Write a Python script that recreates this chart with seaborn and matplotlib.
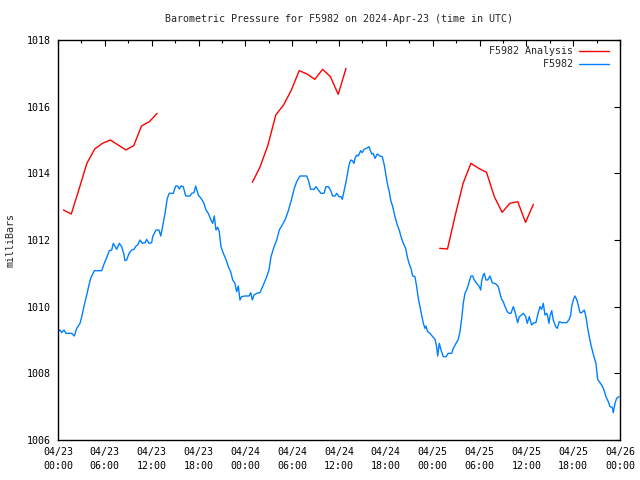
import matplotlib
matplotlib.use("Agg")
import matplotlib.pyplot as plt
from matplotlib.lines import Line2D
import seaborn as sns
import pandas as pd

# ---------------- data ----------------
title = "Barometric Pressure for F5982 on 2024-Apr-23 (time in UTC)"
tick_hours = [0, 6, 12, 18, 24, 30, 36, 42, 48, 54, 60, 66, 72]
tick_labels = ["04/23\n00:00", "04/23\n06:00", "04/23\n12:00", "04/23\n18:00",
               "04/24\n00:00", "04/24\n06:00", "04/24\n12:00", "04/24\n18:00",
               "04/25\n00:00", "04/25\n06:00", "04/25\n12:00", "04/25\n18:00",
               "04/26\n00:00"]

# Analysis (red), three separate runs, hours since 04/23 00:00 UTC
ana1_h = [0.7, 1.7, 2.7, 3.7, 4.7, 5.7, 6.7, 7.7, 8.7, 9.7, 10.7, 11.7, 12.7]
ana1_mb = [1012.90, 1012.78, 1013.53, 1014.30, 1014.73, 1014.90, 1015.00,
           1014.85, 1014.70, 1014.83, 1015.42, 1015.55, 1015.80]
ana2_h = [24.9, 25.9, 26.9, 27.9, 28.9, 29.9, 30.9, 31.9, 32.9, 33.9, 34.9, 35.9, 36.9]
ana2_mb = [1013.73, 1014.20, 1014.85, 1015.75, 1016.05, 1016.50, 1017.08,
           1016.98, 1016.82, 1017.12, 1016.90, 1016.37, 1017.15]
ana3_h = [48.9, 49.9, 50.9, 51.9, 52.9, 53.9, 54.9, 55.9, 56.9, 57.9, 58.9, 59.9, 60.9]
ana3_mb = [1011.75, 1011.73, 1012.75, 1013.70, 1014.30, 1014.15, 1014.03,
           1013.30, 1012.83, 1013.10, 1013.15, 1012.53, 1013.07]

# Station observations (blue)
obs_h = [0.10, 0.26, 0.47, 0.77, 1.02, 1.76, 2.09, 2.40, 2.82, 3.04, 3.37, 3.68, 3.97,
         4.19, 4.65, 5.60, 5.93, 6.37, 6.57, 6.88, 7.08, 7.52, 7.85, 8.16, 8.46,
         8.58, 8.80, 9.10, 9.44, 9.74, 9.99, 10.21, 10.50, 10.80, 11.15, 11.36,
         11.66, 12.00, 12.13, 12.34, 12.55, 12.94, 13.16, 13.36, 13.71, 14.00,
         14.26, 14.77, 15.08, 15.33, 15.54, 15.76, 16.05, 16.36, 16.91, 17.13,
         17.42, 17.64, 17.97, 18.41, 18.70, 18.92, 19.25, 19.60, 19.82, 20.02,
         20.24, 20.46, 20.66, 20.88, 21.18, 21.52, 21.82, 22.12, 22.38, 22.67,
         22.89, 23.10, 23.31, 23.53, 23.96, 24.47, 24.69, 24.89, 25.11, 25.46,
         25.88, 26.30, 26.74, 27.03, 27.29, 27.71, 28.02, 28.35, 28.73, 29.08,
         29.43, 29.72, 30.01, 30.27, 30.58, 31.00, 31.86, 32.07, 32.37, 32.80,
         33.05, 33.35, 33.69, 34.08, 34.33, 34.63, 34.94, 35.19, 35.49, 35.70,
         36.00, 36.25, 36.42, 36.68, 36.86, 37.06, 37.28, 37.50, 37.70, 37.92,
         38.05, 38.27, 38.47, 38.78, 38.98, 39.20, 39.55, 39.84, 39.97, 40.19,
         40.39, 40.61, 40.90, 41.25, 41.55, 41.80, 41.98, 42.19, 42.44, 42.62,
         42.88, 43.17, 43.47, 43.72, 43.94, 44.24, 44.54, 44.75, 44.97, 45.22,
         45.44, 45.73, 45.95, 46.16, 46.37, 46.59, 46.80, 47.01, 47.14, 47.36,
         47.65, 48.00, 48.30, 48.51, 48.64, 48.85, 49.07, 49.36, 49.71, 50.00,
         50.44, 50.64, 50.99, 51.28, 51.50, 51.72, 51.92, 52.14, 52.43, 52.69,
         52.91, 53.13, 53.33, 53.64, 53.97, 54.15, 54.28, 54.48, 54.61, 54.83,
         55.05, 55.34, 55.64, 56.11, 56.41, 56.62, 56.84, 57.05, 57.27, 57.56,
         57.82, 58.03, 58.33, 58.54, 58.76, 58.89, 59.10, 59.40, 59.61, 59.92,
         60.12, 60.38, 60.68, 60.98, 61.23, 61.45, 61.75, 61.96, 62.17, 62.39,
         62.61, 62.74, 62.90, 63.03, 63.25, 63.45, 63.76, 63.97, 64.22, 64.53,
         65.17, 65.50, 65.68, 65.81, 66.01, 66.23, 66.45, 66.65, 66.87, 67.09,
         67.42, 67.64, 67.86, 68.06, 68.28, 68.50, 68.66, 68.92, 69.14, 69.34,
         69.65, 69.95, 70.20, 70.50, 70.72, 71.01, 71.14, 71.36, 71.57, 71.86]
obs_mb = [1009.28, 1009.30, 1009.22, 1009.30, 1009.20, 1009.20, 1009.12, 1009.35, 1009.50,
          1009.70, 1010.05, 1010.35, 1010.65, 1010.85, 1011.08, 1011.08, 1011.30,
          1011.55, 1011.68, 1011.70, 1011.90, 1011.72, 1011.90, 1011.80, 1011.55,
          1011.38, 1011.40, 1011.60, 1011.70, 1011.72, 1011.82, 1011.85, 1012.00,
          1011.90, 1011.92, 1012.02, 1011.90, 1011.92, 1012.10, 1012.20, 1012.30,
          1012.30, 1012.12, 1012.35, 1012.80, 1013.25, 1013.40, 1013.40, 1013.62,
          1013.62, 1013.53, 1013.62, 1013.60, 1013.32, 1013.32, 1013.40, 1013.42,
          1013.62, 1013.35, 1013.22, 1013.10, 1012.92, 1012.80, 1012.60, 1012.50,
          1012.72, 1012.30, 1012.38, 1012.25, 1011.80, 1011.60, 1011.42, 1011.20,
          1011.05, 1010.80, 1010.70, 1010.45, 1010.62, 1010.20, 1010.30, 1010.32,
          1010.32, 1010.42, 1010.20, 1010.35, 1010.40, 1010.42, 1010.65, 1010.90,
          1011.10, 1011.50, 1011.82, 1012.00, 1012.30, 1012.45, 1012.60, 1012.82,
          1013.05, 1013.30, 1013.55, 1013.75, 1013.92, 1013.92, 1013.80, 1013.52,
          1013.52, 1013.60, 1013.50, 1013.40, 1013.40, 1013.60, 1013.60, 1013.48,
          1013.32, 1013.32, 1013.40, 1013.30, 1013.30, 1013.22, 1013.50, 1013.70,
          1013.95, 1014.25, 1014.40, 1014.38, 1014.30, 1014.45, 1014.55, 1014.52,
          1014.68, 1014.62, 1014.72, 1014.75, 1014.80, 1014.72, 1014.58, 1014.60,
          1014.45, 1014.58, 1014.52, 1014.50, 1014.25, 1014.00, 1013.70, 1013.45,
          1013.20, 1013.00, 1012.70, 1012.45, 1012.30, 1012.10, 1011.90, 1011.75,
          1011.50, 1011.30, 1011.15, 1010.92, 1010.90, 1010.60, 1010.25, 1010.00,
          1009.75, 1009.50, 1009.35, 1009.42, 1009.25, 1009.20, 1009.10, 1009.02,
          1008.80, 1008.52, 1008.90, 1008.70, 1008.50, 1008.50, 1008.60, 1008.60,
          1008.75, 1008.90, 1009.02, 1009.25, 1009.65, 1010.10, 1010.40, 1010.55,
          1010.75, 1010.92, 1010.92, 1010.80, 1010.70, 1010.60, 1010.50, 1010.78,
          1010.95, 1011.00, 1010.80, 1010.80, 1010.92, 1010.72, 1010.68, 1010.60,
          1010.40, 1010.22, 1010.15, 1010.00, 1009.85, 1009.80, 1009.80, 1010.00,
          1009.85, 1009.65, 1009.52, 1009.70, 1009.75, 1009.80, 1009.70, 1009.50,
          1009.70, 1009.45, 1009.52, 1009.52, 1009.75, 1010.00, 1009.92, 1010.10,
          1009.75, 1009.80, 1009.70, 1009.50, 1009.72, 1009.88, 1009.60, 1009.40,
          1009.35, 1009.55, 1009.52, 1009.52, 1009.62, 1009.75, 1010.00, 1010.20,
          1010.32, 1010.22, 1010.05, 1009.82, 1009.82, 1009.90, 1009.70, 1009.35,
          1009.10, 1008.85, 1008.65, 1008.50, 1008.30, 1007.82, 1007.75, 1007.65,
          1007.50, 1007.30, 1007.15, 1007.00, 1006.98, 1006.82, 1007.10, 1007.25,
          1007.30]

# ---------------- frames ----------------
ana = pd.concat([
    pd.DataFrame({"hour": ana1_h, "mb": ana1_mb, "run": 1}),
    pd.DataFrame({"hour": ana2_h, "mb": ana2_mb, "run": 2}),
    pd.DataFrame({"hour": ana3_h, "mb": ana3_mb, "run": 3}),
])
obs = pd.DataFrame({"hour": obs_h, "mb": obs_mb})

RED = "#ff0000"
BLUE = "#0080ff"

sns.set_style("white")
plt.rcParams["font.family"] = ["DejaVu Sans Mono"]
plt.rcParams["font.size"] = 7.2

fig = plt.figure(figsize=(6.4, 4.8), dpi=100)
ax = fig.add_axes([58 / 640, 40 / 480, 562 / 640, 400 / 480])

sns.lineplot(data=ana, x="hour", y="mb", units="run", estimator=None,
             color=RED, linewidth=1.0, ax=ax, legend=False)
sns.lineplot(data=obs, x="hour", y="mb", estimator=None,
             color=BLUE, linewidth=1.0, ax=ax, legend=False)

ax.set_xlim(0, 72)
ax.set_ylim(1006, 1018)
ax.set_xticks(tick_hours)
ax.set_xticklabels(tick_labels, linespacing=1.45)
ax.set_xticks(list(range(3, 72, 6)), minor=True)
ax.set_yticks(list(range(1006, 1019, 2)))
ax.tick_params(which="both", direction="in", top=True, right=True,
               colors="black", labelsize=7.2)
ax.tick_params(which="major", length=4.5, width=0.8)
ax.tick_params(which="minor", length=2.5, width=0.8)
ax.tick_params(axis="x", pad=5)
ax.tick_params(axis="y", pad=5)
for s in ax.spines.values():
    s.set_color("black")
    s.set_linewidth(1.0)

ax.set_xlabel("")
ax.set_ylabel("milliBars", fontsize=7.2, labelpad=8)
ax.set_title(title, fontsize=7.2, pad=13)

handles = [Line2D([], [], color=RED, lw=1.0), Line2D([], [], color=BLUE, lw=1.0)]
labels = ["F5982 Analysis", "         F5982"]
ax.legend(handles, labels, loc="upper right", frameon=False, markerfirst=False,
          handlelength=3.0, handletextpad=0.6, labelspacing=0.3,
          borderaxespad=0.1, bbox_to_anchor=(0.99, 0.997), fontsize=7.2)

fig.savefig("out.png", dpi=100, facecolor="white")
